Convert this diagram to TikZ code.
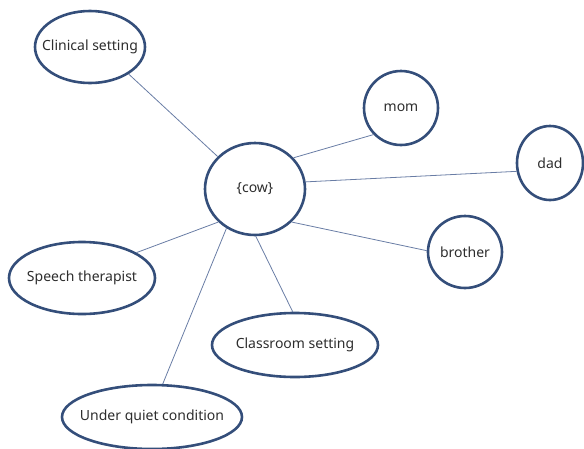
\documentclass[tikz,border=0pt]{standalone}
\usepackage{fontspec}
\setmainfont{Noto Sans}
\usetikzlibrary{shapes.geometric}
\definecolor{rim}{RGB}{52,78,122}
\definecolor{wire}{RGB}{105,125,165}
\definecolor{ink}{RGB}{45,45,45}
\newcommand{\zw}[1]{\makebox[0pt]{#1}}
\tikzset{
  bubble/.style={ellipse, draw=rim, line width=2.6pt, inner sep=0pt, text=ink,
    font=\fontsize{14}{16}\selectfont},
  wirel/.style={draw=wire, line width=0.8pt}
}
\begin{document}
\begin{tikzpicture}[x=1pt,y=-1pt]
\useasboundingbox (0,0) rectangle (584,448);
\node[bubble, minimum width=110pt, minimum height=72pt] (clin) at (90,47) {\zw{Clinical setting}};
\node[bubble, minimum width=100pt, minimum height=92pt] (cow) at (255,189) {\zw{\{cow\}}};
\node[bubble, minimum width=74pt, minimum height=74pt] (mom) at (401,108) {\zw{mom}};
\node[bubble, minimum width=66pt, minimum height=74pt] (dad) at (550,163) {\zw{dad}};
\node[bubble, minimum width=74pt, minimum height=72pt] (bro) at (465,252) {\zw{brother}};
\node[bubble, minimum width=146pt, minimum height=72pt] (speech) at (82,278) {\zw{Speech therapist}};
\node[bubble, minimum width=166pt, minimum height=64pt] (class) at (295,345) {\zw{Classroom setting}};
\node[bubble, minimum width=180pt, minimum height=64pt] (quiet) at (152,417) {\zw{Under quiet condition}};
\draw[wirel] (cow.139) -- (clin.-35);
\draw[wirel] (cow.39) -- (mom.224);
\draw[wirel] (cow.8) -- (dad.194);
\draw[wirel] (cow.-42) -- (bro.178);
\draw[wirel] (cow.222) -- (speech.25);
\draw[wirel] (cow.-89) -- (class.94);
\draw[wirel] (cow.234) -- (quiet.72);
\end{tikzpicture}
\end{document}
